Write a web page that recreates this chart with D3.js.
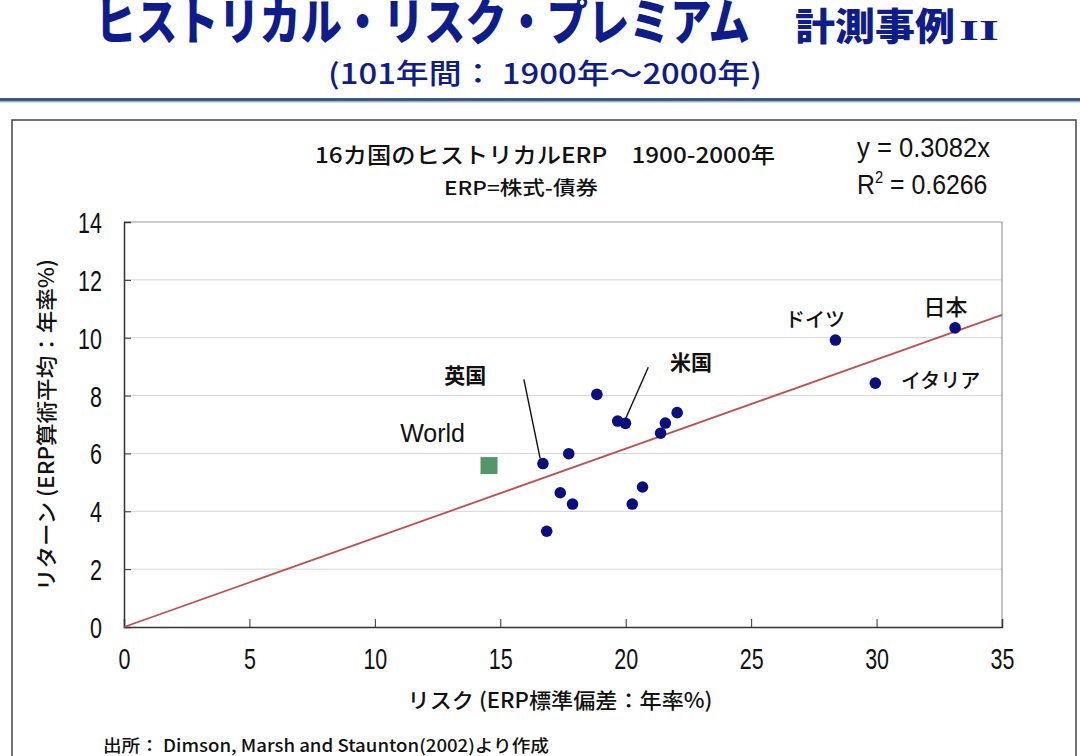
<!DOCTYPE html>
<html><head><meta charset="utf-8">
<script src="https://cdn.jsdelivr.net/npm/d3@7"></script>
<style>
body{margin:0;background:#fff;}
svg{display:block;}
</style></head>
<body>
<svg id="c" width="1080" height="756"></svg>
<script>
// ---- data ----
const countryNames = ["日本","ドイツ","イタリア","","","米国","","","","","英国","","","","",""];
const riskX   = [33.13, 28.36, 29.95, 18.85, 19.68, 19.99, 21.58, 22.05, 21.39, 17.73, 16.70, 17.39, 17.88, 20.67, 20.26, 16.85];
const returnY = [10.34,  9.92,  8.43,  8.04,  7.12,  7.04,  7.05,  7.41,  6.70,  5.99,  5.65,  4.64,  4.25,  4.84,  4.25,  3.31];
const worldPoint = {name:"World", x:14.55, y:5.58};
const slope = 0.3082;
const r2 = 0.6266;
const xTicks = [0,5,10,15,20,25,30,35];
const yTicks = [0,2,4,6,8,10,12,14];
// label positions (data coords) and leader lines
const labels = [
  {t:"日本", x:32.75, y:11.05, s:22, w:"500"},
  {t:"ドイツ", x:27.55, y:10.6, s:20, w:"500"},
  {t:"イタリア", x:32.55, y:8.5, s:20, w:"500"},
  {t:"米国", x:22.6, y:9.15, s:21, w:"bold"},
  {t:"英国", x:13.6, y:8.7, s:21, w:"bold"}
];
const leaders = [
  {x1:15.94, y1:8.56, x2:16.59, y2:5.82},
  {x1:20.90, y1:8.98, x2:19.99, y2:7.19}
];

const svg = d3.select("#c");
const navy = "#0e1c8c";
const JP = "'Noto Sans CJK JP','Noto Sans',sans-serif";
const NUM = "'Liberation Sans','Arial',sans-serif";

function narrow(sel, f){
  sel.each(function(){
    const w = this.getComputedTextLength();
    d3.select(this).attr("textLength", w*f).attr("lengthAdjust","spacingAndGlyphs");
  });
}
// place text scaled horizontally to a target width
function fitText(txt, x0, y0, width, attrs){
  const g = svg.append("g");
  const t = g.append("text").attr("x",0).attr("y",0).text(txt);
  Object.entries(attrs).forEach(([k,v])=>t.attr(k,v));
  const w = t.node().getComputedTextLength();
  g.attr("transform",`translate(${x0},${y0}) scale(${width/w},1)`);
  return t;
}

// ---- header ----
fitText("ヒストリカル・リスク・プレミアム", 95, 40, 655,
  {"font-family":JP,"font-weight":"900","font-size":50,"fill":navy});
fitText("計測事例", 795, 40, 160,
  {"font-family":JP,"font-weight":"900","font-size":38,"fill":navy});
fitText("II", 959, 40, 40,
  {"font-family":"'Liberation Serif',serif","font-weight":"bold","font-size":30,"fill":navy});
fitText("(101年間： 1900年～2000年)", 328, 84, 434,
  {"font-family":JP,"font-weight":"500","font-size":28,"fill":navy});
svg.append("rect").attr("x",0).attr("y",98).attr("width",1080).attr("height",3).attr("fill","#3b5a78");
svg.append("rect").attr("x",0).attr("y",101).attr("width",1080).attr("height",1.5).attr("fill","#9db8cc");

// ---- chart frame ----
svg.append("rect").attr("x",12).attr("y",120).attr("width",1064).attr("height",660)
  .attr("fill","#fff").attr("stroke","#444").attr("stroke-width",1.5);

// ---- scales ----
const x = d3.scaleLinear().domain([0,35]).range([124,1002]);
const y = d3.scaleLinear().domain([0,14]).range([627,222]);

// grid
svg.append("g").selectAll("line").data(yTicks.filter(d=>d>0&&d<14)).join("line")
  .attr("x1",x(0)).attr("x2",x(35)).attr("y1",d=>y(d)).attr("y2",d=>y(d))
  .attr("stroke","#d4d4d4").attr("stroke-width",1);
// plot border top/right
svg.append("path").attr("d",`M${x(0)},${y(14)}H${x(35)}V${y(0)}`).attr("fill","none")
  .attr("stroke","#999").attr("stroke-width",1.2);

// axes
const yAxis = d3.axisLeft(y).tickValues(yTicks).tickSize(-7).tickPadding(22).tickFormat(d3.format("d"));
const gy = svg.append("g").attr("transform",`translate(${x(0)},0)`).call(yAxis);
const xAxis = d3.axisBottom(x).tickValues(xTicks).tickSize(-8).tickPadding(24).tickFormat(d3.format("d"));
const gx = svg.append("g").attr("transform",`translate(0,${y(0)})`).call(xAxis);
[gx,gy].forEach(g=>{
  g.select(".domain").attr("stroke","#333").attr("stroke-width",1.5);
  g.selectAll(".tick line").attr("stroke","#333").attr("stroke-width",1);
  g.selectAll(".tick text").attr("font-family",NUM).attr("font-size",29).attr("fill","#111");
});
gx.selectAll(".tick text").attr("dy","0.62em");
gy.selectAll(".tick text").attr("dy","0.36em");
narrow(gx.selectAll(".tick text"), 0.74);
narrow(gy.selectAll(".tick text"), 0.74);
gx.selectAll(".tick").filter(d=>d===0).select("line").remove();
gy.selectAll(".tick").filter(d=>d===0||d===14).select("line").remove();

// regression line
svg.append("line").attr("x1",x(0)).attr("y1",y(0)).attr("x2",x(35)).attr("y2",y(slope*35))
  .attr("stroke","#c0504d").attr("stroke-width",1.8);

// leader lines
svg.append("g").selectAll("line").data(leaders).join("line")
  .attr("x1",d=>x(d.x1)).attr("y1",d=>y(d.y1)).attr("x2",d=>x(d.x2)).attr("y2",d=>y(d.y2))
  .attr("stroke","#111").attr("stroke-width",1.4);

// world square
svg.append("rect").attr("x",x(worldPoint.x)-8.5).attr("y",y(worldPoint.y)-8.5)
  .attr("width",17).attr("height",17).attr("fill","#52976b");
svg.append("text").attr("x",x(12.3)).attr("y",y(6.4)).attr("font-family",NUM)
  .attr("font-size",25).attr("fill","#111").attr("text-anchor","middle").text(worldPoint.name);

// points
const pts = riskX.map((v,i)=>({x:v,y:returnY[i],n:countryNames[i]}));
svg.append("g").selectAll("circle").data(pts).join("circle")
  .attr("cx",d=>x(d.x)).attr("cy",d=>y(d.y)).attr("r",5.8).attr("fill","#0a0f80");

// labels
svg.append("g").selectAll("text").data(labels).join("text")
  .attr("x",d=>x(d.x)).attr("y",d=>y(d.y)).attr("text-anchor","middle").attr("dy","0.35em")
  .attr("font-family",JP).attr("font-weight",d=>d.w)
  .attr("font-size",d=>d.s).attr("fill","#111").text(d=>d.t);

// chart titles
svg.append("text").attr("x",545).attr("y",163).attr("text-anchor","middle").attr("font-family",JP)
  .attr("font-weight","500")
  .attr("font-size",22).attr("fill","#111").attr("textLength",460).attr("lengthAdjust","spacingAndGlyphs")
  .text("16カ国のヒストリカルERP　1900-2000年");
svg.append("text").attr("x",521).attr("y",195).attr("text-anchor","middle").attr("font-family",JP)
  .attr("font-weight","500")
  .attr("font-size",19).attr("fill","#111").attr("textLength",154).attr("lengthAdjust","spacingAndGlyphs")
  .text("ERP=株式-債券");
svg.append("text").attr("x",857).attr("y",157).attr("font-family",NUM)
  .attr("font-size",27).attr("fill","#111").attr("textLength",133).attr("lengthAdjust","spacingAndGlyphs")
  .text("y = 0.3082x");
const rt = svg.append("text").attr("x",857).attr("y",194).attr("font-family",NUM)
  .attr("font-size",27).attr("fill","#111");
rt.append("tspan").text("R");
rt.append("tspan").attr("dy",-11).attr("font-size",16).text("2");
rt.append("tspan").attr("dy",11).text(" = " + r2.toFixed(4));
narrow(rt, 0.92);

// axis titles
svg.append("text").attr("x",560).attr("y",708).attr("text-anchor","middle").attr("font-family",JP)
  .attr("font-weight","500")
  .attr("font-size",21).attr("fill","#111").attr("textLength",305).attr("lengthAdjust","spacingAndGlyphs")
  .text("リスク (ERP標準偏差：年率%)");
svg.append("text").attr("transform","translate(54,425) rotate(-90)").attr("text-anchor","middle")
  .attr("font-weight","500")
  .attr("font-family",JP).attr("font-size",21).attr("fill","#111").attr("textLength",332).attr("lengthAdjust","spacingAndGlyphs")
  .text("リターン (ERP算術平均：年率%)");

// footer
svg.append("text").attr("x",103).attr("y",752).attr("font-family",JP).attr("font-weight","500")
  .attr("font-size",17).attr("fill","#111").attr("textLength",446).attr("lengthAdjust","spacingAndGlyphs")
  .text("出所： Dimson, Marsh and Staunton(2002)より作成");
</script>
</body></html>
